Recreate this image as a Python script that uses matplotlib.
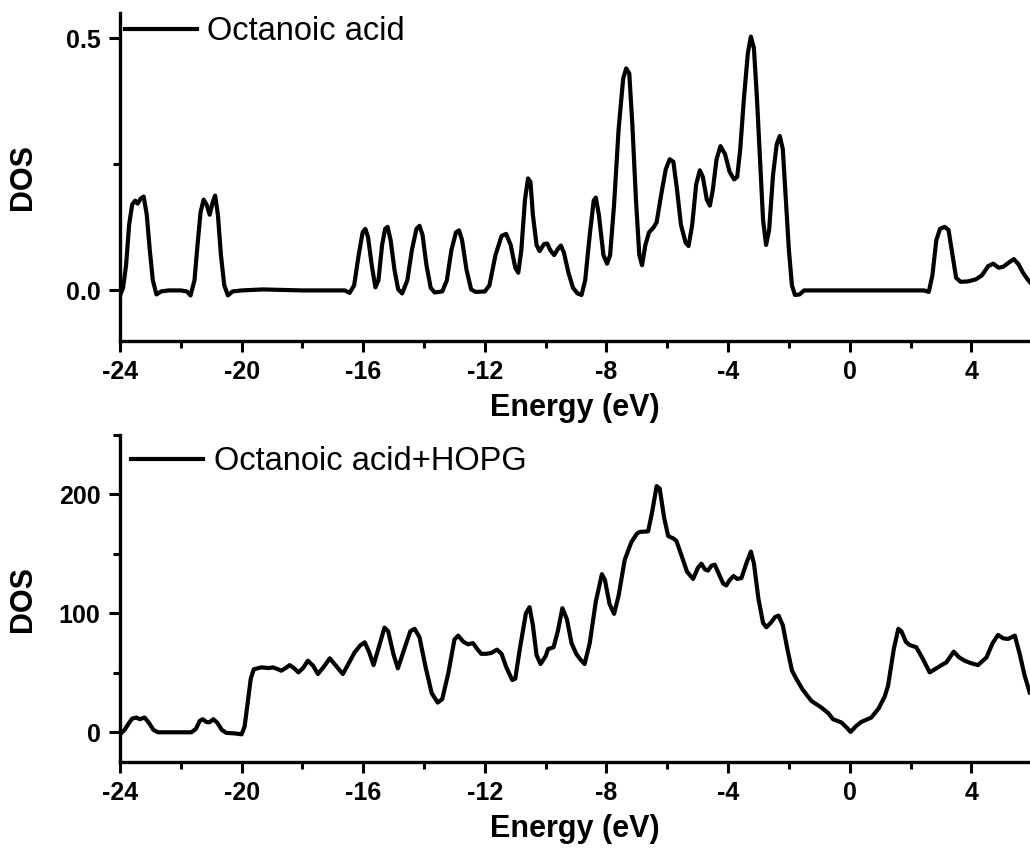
import numpy as np
import matplotlib.pyplot as plt
from matplotlib.ticker import MultipleLocator

# Octanoic acid DOS
energy_acid = [-24.0, -23.9, -23.8, -23.7, -23.6, -23.5, -23.42, -23.32, -23.22, -23.12,
               -23.02, -22.92, -22.8, -22.65, -22.4, -22.0, -21.8, -21.68, -21.55, -21.45,
               -21.35, -21.25, -21.15, -21.05, -20.95, -20.87, -20.78, -20.68, -20.57, -20.45,
               -20.3, -20.0, -19.3, -18.0, -16.6, -16.45, -16.3, -16.15, -16.02, -15.93,
               -15.84, -15.72, -15.6, -15.5, -15.38, -15.28, -15.2, -15.1, -14.97, -14.85,
               -14.72, -14.55, -14.4, -14.25, -14.15, -14.05, -13.92, -13.78, -13.65, -13.4,
               -13.25, -13.1, -12.95, -12.85, -12.75, -12.6, -12.45, -12.3, -12.0, -11.85,
               -11.65, -11.45, -11.3, -11.15, -11.0, -10.9, -10.8, -10.68, -10.58, -10.5,
               -10.42, -10.3, -10.2, -10.05, -9.95, -9.85, -9.72, -9.6, -9.5, -9.4,
               -9.25, -9.1, -8.95, -8.82, -8.7, -8.55, -8.42, -8.35, -8.25, -8.1,
               -7.98, -7.88, -7.75, -7.6, -7.45, -7.35, -7.25, -7.15, -7.03, -6.92,
               -6.83, -6.72, -6.6, -6.45, -6.35, -6.2, -6.05, -5.92, -5.8, -5.68,
               -5.55, -5.4, -5.3, -5.18, -5.05, -4.93, -4.83, -4.7, -4.6, -4.5,
               -4.38, -4.25, -4.1, -3.95, -3.8, -3.7, -3.6, -3.48, -3.35, -3.25,
               -3.15, -3.05, -2.95, -2.85, -2.75, -2.65, -2.52, -2.4, -2.3, -2.2,
               -2.1, -2.0, -1.9, -1.8, -1.65, -1.5, 0.0, 2.45, 2.6, 2.72,
               2.85, 2.97, 3.12, 3.25, 3.38, 3.5, 3.65, 3.9, 4.15, 4.35,
               4.55, 4.72, 4.9, 5.05, 5.25, 5.4, 5.55, 5.7, 5.85, 5.95]
dos_acid = [-0.01, 0.005, 0.05, 0.13, 0.17, 0.178, 0.172, 0.182, 0.186, 0.15,
            0.08, 0.02, -0.008, -0.002, 0.0, 0.0, -0.002, -0.01, 0.02, 0.09,
            0.155, 0.18, 0.17, 0.15, 0.175, 0.188, 0.15, 0.07, 0.01, -0.01,
            -0.002, 0.0, 0.002, 0.0, 0.0, -0.005, 0.01, 0.07, 0.115, 0.122,
            0.105, 0.05, 0.006, 0.02, 0.09, 0.122, 0.126, 0.1, 0.04, 0.002,
            -0.006, 0.02, 0.08, 0.122, 0.128, 0.11, 0.05, 0.005, -0.004, -0.002,
            0.02, 0.08, 0.115, 0.119, 0.1, 0.04, 0.002, -0.003, -0.002, 0.01,
            0.07, 0.108, 0.112, 0.09, 0.045, 0.035, 0.08, 0.18, 0.222, 0.215,
            0.15, 0.09, 0.078, 0.092, 0.093, 0.08, 0.07, 0.082, 0.089, 0.075,
            0.035, 0.005, -0.006, -0.009, 0.02, 0.11, 0.178, 0.184, 0.15, 0.07,
            0.053, 0.07, 0.17, 0.32, 0.42, 0.44, 0.43, 0.33, 0.18, 0.07,
            0.05, 0.09, 0.115, 0.125, 0.135, 0.19, 0.24, 0.26, 0.255, 0.2,
            0.13, 0.095, 0.088, 0.13, 0.21, 0.238, 0.225, 0.18, 0.168, 0.2,
            0.26, 0.286, 0.27, 0.235, 0.22, 0.225, 0.28, 0.38, 0.47, 0.503,
            0.48, 0.38, 0.26, 0.14, 0.09, 0.12, 0.23, 0.29, 0.306, 0.28,
            0.18, 0.08, 0.01, -0.009, -0.008, 0.0, 0.0, 0.0, -0.003, 0.03,
            0.1, 0.122, 0.126, 0.12, 0.07, 0.025, 0.017, 0.018, 0.022, 0.03,
            0.048, 0.053, 0.045, 0.047, 0.056, 0.062, 0.052, 0.035, 0.022, 0.015]

# Octanoic acid + HOPG DOS
energy_hopg = [-24.0, -23.85, -23.7, -23.6, -23.46, -23.35, -23.19, -23.05, -22.9, -22.75,
               -22.0, -21.65, -21.5, -21.38, -21.28, -21.15, -21.05, -20.93, -20.8, -20.65,
               -20.5, -20.2, -20.0, -19.9, -19.8, -19.7, -19.6, -19.35, -19.1, -18.97,
               -18.8, -18.7, -18.55, -18.42, -18.28, -18.13, -17.98, -17.82, -17.65, -17.49,
               -17.3, -17.1, -16.9, -16.67, -16.5, -16.28, -16.1, -15.95, -15.8, -15.66,
               -15.45, -15.3, -15.18, -15.0, -14.86, -14.65, -14.45, -14.31, -14.15, -13.95,
               -13.75, -13.55, -13.4, -13.2, -13.0, -12.88, -12.7, -12.55, -12.39, -12.25,
               -12.12, -11.95, -11.79, -11.6, -11.45, -11.3, -11.1, -11.0, -10.85, -10.65,
               -10.53, -10.42, -10.3, -10.17, -10.0, -9.92, -9.74, -9.6, -9.45, -9.3,
               -9.15, -8.99, -8.85, -8.72, -8.55, -8.35, -8.15, -8.05, -7.9, -7.75,
               -7.6, -7.4, -7.18, -7.0, -6.91, -6.63, -6.5, -6.35, -6.25, -6.1,
               -5.97, -5.8, -5.7, -5.55, -5.35, -5.15, -5.0, -4.88, -4.76, -4.66,
               -4.55, -4.44, -4.3, -4.16, -4.06, -3.95, -3.82, -3.7, -3.56, -3.4,
               -3.25, -3.15, -3.0, -2.85, -2.74, -2.6, -2.45, -2.34, -2.2, -2.05,
               -1.9, -1.75, -1.55, -1.26, -0.93, -0.7, -0.55, -0.27, -0.1, 0.03,
               0.2, 0.38, 0.71, 0.95, 1.15, 1.26, 1.45, 1.6, 1.7, 1.85,
               1.97, 2.19, 2.4, 2.63, 2.8, 3.02, 3.18, 3.42, 3.6, 3.78,
               4.0, 4.22, 4.5, 4.7, 4.88, 5.05, 5.21, 5.43, 5.6, 5.75,
               5.92]
dos_hopg = [-1.7, 2, 8, 11.5, 12.4, 11, 12.4, 8, 2, 0,
            0, 0, 3, 9.5, 11, 8.5, 8.5, 11, 8, 2,
            -0.5, -1, -1.7, 5, 25, 45, 53, 54.6, 54, 54.6,
            53, 51.8, 54, 56.5, 54, 50.4, 54, 60.2, 56, 49,
            55, 62.2, 56, 49, 57, 67.3, 73, 75.7, 67, 56.5,
            75, 88, 85, 65, 53.8, 70, 85, 87, 80, 55,
            33, 25, 28, 50, 78, 81.3, 76, 74, 75, 70,
            66, 66, 66.7, 69.5, 66, 55, 44, 45, 70, 100,
            105.2, 90, 65, 57.4, 64, 70, 71.5, 85, 104.4, 95,
            75, 65.8, 61, 57.4, 75, 110, 133, 128, 108, 99.6,
            115, 145, 160, 167, 168.5, 169, 185, 207, 205, 180,
            165, 163, 161, 150, 135, 129, 138, 141.8, 137, 136,
            140, 141, 133, 125, 123.5, 128, 131.4, 129, 129.7, 142,
            152, 142, 112, 92, 88.3, 92, 97, 98.1, 90, 70,
            52, 44.7, 36, 26.4, 20.8, 16, 11, 8.2, 4, 0.3,
            5, 8.7, 12.4, 20, 30, 39, 70, 87, 85, 76,
            73.4, 71.5, 62, 50.4, 53, 56.5, 58.8, 67.8, 63, 60.2,
            58, 56.5, 63, 75, 81.9, 79, 78.5, 81.3, 65, 48,
            33.5]

plt.rcParams['font.family'] = ['Liberation Sans', 'DejaVu Sans']
plt.rcParams['axes.unicode_minus'] = False

fig = plt.figure(figsize=(10.3, 8.48), dpi=100)
ax1 = fig.add_axes([0.1165, 0.598, 0.8835, 0.3868])
ax2 = fig.add_axes([0.1165, 0.1014, 0.8835, 0.3856])


def style_axis(ax, ylim, major, minor):
    ax.set_xlim(-24, 5.93)
    ax.set_ylim(*ylim)
    for side in ['top', 'right']:
        ax.spines[side].set_visible(False)
    for side in ['left', 'bottom']:
        ax.spines[side].set_linewidth(2.4)
    ax.xaxis.set_major_locator(MultipleLocator(4))
    ax.xaxis.set_minor_locator(MultipleLocator(2))
    ax.yaxis.set_major_locator(MultipleLocator(major))
    ax.yaxis.set_minor_locator(MultipleLocator(minor))
    ax.tick_params(which='major', direction='out', length=8, width=2.2,
                   labelsize=18, pad=6)
    ax.tick_params(which='minor', direction='out', length=5, width=2.2)
    for lbl in ax.get_xticklabels() + ax.get_yticklabels():
        lbl.set_fontweight('bold')
    ax.set_xlabel('Energy (eV)', fontsize=22, fontweight='bold', labelpad=6)
    ax.set_ylabel('DOS', fontsize=22, fontweight='bold')
    ax.yaxis.set_label_coords(-0.09, 0.5)


ax1.plot(energy_acid, dos_acid, color='black', lw=3, solid_joinstyle='round',
         label='Octanoic acid')
style_axis(ax1, (-0.1, 0.55), 0.5, 0.25)
ax1.set_yticks([0.0, 0.5])
ax1.set_yticklabels(['0.0', '0.5'], fontweight='bold')
ax1.legend(loc='upper left', bbox_to_anchor=(0.006, 0.99), frameon=False,
           fontsize=23.5, handlelength=2.2, handletextpad=0.3, borderpad=0,
           borderaxespad=0)

ax2.plot(energy_hopg, dos_hopg, color='black', lw=3, solid_joinstyle='round',
         label='Octanoic acid+HOPG')
style_axis(ax2, (-25, 250), 100, 50)
ax2.legend(loc='upper left', bbox_to_anchor=(0.012, 0.966), frameon=False,
           fontsize=23.5, handlelength=2.2, handletextpad=0.35, borderpad=0,
           borderaxespad=0)

fig.savefig('out.png', dpi=100)
